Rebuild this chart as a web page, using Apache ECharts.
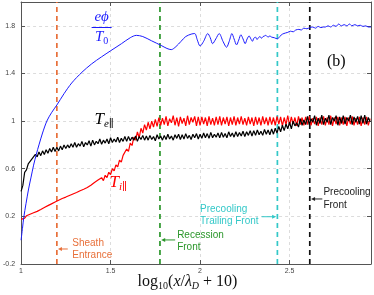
<!DOCTYPE html>
<html><head><meta charset="utf-8">
<script src="https://cdn.jsdelivr.net/npm/echarts/dist/echarts.min.js"></script>
<style>html,body{margin:0;padding:0;background:#fff}#c{width:374px;height:295px}</style>
</head><body><div id="c"></div>
<script>
const xGrid = [
1.00,1.01,1.02,1.03,1.04,1.05,1.06,1.07,1.08,1.09,
1.10,1.11,1.12,1.13,1.14,1.15,1.16,1.17,1.18,1.19,
1.20,1.21,1.22,1.23,1.24,1.25,1.26,1.27,1.28,1.29,
1.30,1.31,1.32,1.33,1.34,1.35,1.36,1.37,1.38,1.39,
1.40,1.41,1.42,1.43,1.44,1.45,1.46,1.47,1.48,1.49,
1.50,1.51,1.52,1.53,1.54,1.55,1.56,1.57,1.58,1.59,
1.60,1.61,1.62,1.63,1.64,1.65,1.66,1.67,1.68,1.69,
1.70,1.71,1.72,1.73,1.74,1.75,1.76,1.77,1.78,1.79,
1.80,1.81,1.82,1.83,1.84,1.85,1.86,1.87,1.88,1.89,
1.90,1.91,1.92,1.93,1.94,1.95,1.96,1.97,1.98,1.99,
2.00,2.01,2.02,2.03,2.04,2.05,2.06,2.07,2.08,2.09,
2.10,2.11,2.12,2.13,2.14,2.15,2.16,2.17,2.18,2.19,
2.20,2.21,2.22,2.23,2.24,2.25,2.26,2.27,2.28,2.29,
2.30,2.31,2.32,2.33,2.34,2.35,2.36,2.37,2.38,2.39,
2.40,2.41,2.42,2.43,2.44,2.45,2.46,2.47,2.48,2.49,
2.50,2.51,2.52,2.53,2.54,2.55,2.56,2.57,2.58,2.59,
2.60,2.61,2.62,2.63,2.64,2.65,2.66,2.67,2.68,2.69,
2.70,2.71,2.72,2.73,2.74,2.75,2.76,2.77,2.78,2.79,
2.80,2.81,2.82,2.83,2.84,2.85,2.86,2.87,2.88,2.89,
2.90,2.91,2.92,2.93,2.94,2.95];

const teVals = [
0.41,0.46,0.57,0.59,0.64,0.63,0.68,0.67,0.72,0.70,
0.74,0.71,0.75,0.72,0.76,0.73,0.77,0.74,0.78,0.745,
0.78,0.75,0.79,0.76,0.80,0.77,0.80,0.775,0.81,0.78,
0.82,0.78,0.81,0.79,0.83,0.785,0.82,0.80,0.835,0.79,
0.84,0.80,0.83,0.81,0.85,0.805,0.84,0.815,0.85,0.81,
0.86,0.82,0.85,0.825,0.865,0.82,0.855,0.83,0.87,0.83,
0.87,0.835,0.865,0.84,0.875,0.83,0.87,0.845,0.88,0.84,
0.875,0.84,0.88,0.845,0.87,0.835,0.885,0.85,0.875,0.84,
0.88,0.845,0.89,0.85,0.875,0.84,0.885,0.855,0.89,0.845,
0.885,0.85,0.895,0.855,0.88,0.845,0.89,0.86,0.895,0.85,
0.89,0.855,0.9,0.86,0.895,0.855,0.905,0.86,0.89,0.865,
0.9,0.86,0.905,0.865,0.895,0.86,0.91,0.87,0.9,0.865,
0.91,0.87,0.905,0.875,0.915,0.87,0.91,0.88,0.92,0.875,
0.92,0.88,0.925,0.885,0.915,0.88,0.93,0.89,0.925,0.885,
0.935,0.89,0.94,0.9,0.955,0.91,0.965,0.92,0.975,0.935,
0.99,0.935,1.0,0.96,0.985,0.95,1.02,0.965,1.01,0.97,
1.04,0.97,1.02,0.99,1.045,0.965,1.025,0.98,1.05,0.97,
1.025,0.99,1.05,0.97,1.03,1.0,1.045,0.965,1.035,0.98,
1.045,0.975,1.03,1.0,1.05,0.97,1.035,0.99,1.04,0.975,
1.045,0.98,1.05,0.975,1.03,0.995];

const tiVals = [
0.175,0.19,0.185,0.205,0.2,0.218,0.21,0.23,0.222,0.242,
0.235,0.258,0.252,0.275,0.268,0.29,0.282,0.305,0.296,0.32,
0.31,0.335,0.325,0.35,0.338,0.362,0.352,0.375,0.362,0.388,
0.372,0.4,0.385,0.415,0.4,0.428,0.412,0.442,0.428,0.462,
0.448,0.485,0.472,0.505,0.49,0.525,0.5,0.545,0.525,0.57,
0.55,0.6,0.582,0.632,0.615,0.672,0.655,0.712,0.7,0.765,
0.745,0.815,0.795,0.865,0.84,0.91,0.86,0.94,0.9,0.97,
0.925,0.99,0.935,1.0,0.95,1.015,0.955,1.03,0.965,1.025,
0.97,1.04,0.96,1.02,0.985,1.045,0.965,1.03,0.955,1.035,
0.98,1.025,0.96,1.045,0.97,1.03,0.99,1.04,0.96,1.035,
0.965,1.035,0.975,1.03,0.96,1.04,0.97,1.025,0.965,1.035,
0.97,1.04,0.965,1.03,0.975,1.035,0.96,1.03,0.97,1.04,
0.965,1.03,0.975,1.04,0.97,1.025,0.965,1.035,0.975,1.03,
0.96,1.035,0.97,1.03,0.965,1.04,0.975,1.03,0.965,1.035,
0.97,1.03,0.965,1.04,0.975,1.035,0.96,1.03,0.97,1.045,
0.965,1.035,0.975,1.03,0.96,1.04,0.97,1.03,0.965,1.035,
0.97,1.04,0.965,1.025,0.975,1.035,0.96,1.03,0.97,1.04,
0.965,1.03,0.97,1.045,0.96,1.03,0.975,1.035,0.965,1.03,
0.97,1.035,0.96,1.03,0.975,1.04,0.965,1.025,0.97,1.035,
0.96,1.03,0.97,1.035,0.965,1.02];

const phiX = [1.0,1.008,1.015,1.028,1.042,1.056,1.07,1.085,1.1,1.12,1.144,1.17,1.2,1.24,1.283,1.34,1.394,1.45,1.5,1.561,1.61,1.644,1.68,1.728,1.783,1.815,1.839,1.865,1.894,1.92,1.95,1.97,1.985,2.0,2.02,2.043,2.057,2.07,2.088,2.107,2.128,2.148,2.163,2.178,2.19,2.204,2.216,2.228,2.24,2.252,2.263,2.274,2.284,2.293,2.30,2.31,2.318,2.326,2.335,2.343,2.352,2.36,2.367,2.38,2.39,2.40,2.415,2.432,2.445,2.46,2.478,2.49,2.505,2.52,2.535,2.552,2.565,2.58,2.597,2.613,2.63,2.645,2.66,2.675,2.69,2.70,2.715,2.73,2.745,2.76,2.774,2.79,2.805,2.82,2.835,2.848,2.865,2.88,2.895,2.91,2.925,2.94,2.955];
const phiVals = [0.0,0.1,0.19,0.31,0.43,0.53,0.63,0.72,0.80,0.9,1.0,1.07,1.135,1.23,1.32,1.41,1.48,1.54,1.59,1.65,1.70,1.72,1.71,1.675,1.635,1.61,1.60,1.625,1.67,1.71,1.73,1.735,1.68,1.63,1.67,1.735,1.70,1.65,1.69,1.735,1.67,1.62,1.67,1.735,1.69,1.64,1.68,1.725,1.69,1.65,1.69,1.715,1.69,1.67,1.695,1.705,1.685,1.70,1.71,1.695,1.71,1.715,1.72,1.705,1.715,1.705,1.70,1.69,1.71,1.73,1.74,1.745,1.755,1.75,1.765,1.77,1.765,1.78,1.775,1.785,1.79,1.78,1.795,1.785,1.79,1.79,1.8,1.79,1.805,1.795,1.815,1.80,1.81,1.8,1.815,1.80,1.81,1.80,1.805,1.795,1.8,1.79,1.79];

const frontX = [1.2, 1.776, 2.432, 2.613];
const frontColors = ['#e8703a', '#2a962a', '#33c8c8', '#111111'];
const frontLabels = [['Sheath','Entrance'],['Recession','Front'],['Precooling','Trailing Front'],['Precooling','Front']];
const xTickLabels = ['1','1.5','2','2.5'];
const yTickLabels = ['-0.2','0.2','0.6','1','1.4','1.8'];

// annotation layout (data coords): text left x, line1 y, line2 y, arrow from x, arrow to x, arrow y
const annotLayout = [
  {tx:1.286, ty1:-0.024, ty2:-0.124, ax0:1.261, ax1:1.206, ay:-0.074},
  {tx:1.872, ty1:0.04, ty2:-0.061, ax0:1.861, ax1:1.783, ay:0.002},
  {tx:2.0, ty1:0.26, ty2:0.155, ax0:2.344, ax1:2.425, ay:0.197},
  {tx:2.689, ty1:0.40, ty2:0.296, ax0:2.683, ax1:2.62, ay:0.346}
];

function pairs(xa, ya){ return xa.map((x,i)=>[x, ya[i]]); }
const fmt = (list) => (v) => { const s = String(Math.round(v*100)/100); return list.indexOf(s) >= 0 ? s : ''; };

const chart = echarts.init(document.getElementById('c'), null, {renderer:'canvas'});
const axisCol = '#555';
const series = [];
frontX.forEach((fx, i) => {
  series.push({type:'line', data:[[fx,-0.2],[fx,2.0]], symbol:'none', silent:true, z:1,
    lineStyle:{color:frontColors[i], width:1.7, type:[5,4]}});
});
series.push({type:'line', data:pairs(xGrid, tiVals), symbol:'none', lineStyle:{color:'#ff0000', width:1.2}, z:2});
series.push({type:'line', data:pairs(xGrid, teVals), symbol:'none', lineStyle:{color:'#000000', width:1.2}, z:3});
series.push({type:'line', data:pairs(phiX, phiVals), symbol:'none', smooth:0.3, lineStyle:{color:'#1a1aff', width:1}, z:4});

const baseX = {type:'value', min:1, max:2.955, interval:0.5};
const baseY = {type:'value', min:-0.2, max:2.0, interval:0.4};
chart.setOption({
  animation:false,
  grid:{left:19, right:3, top:2, bottom:31},
  xAxis:[
    Object.assign({}, baseX, {position:'bottom',
      axisLine:{show:true, onZero:false, lineStyle:{color:axisCol}},
      axisTick:{show:true, inside:true, length:4, lineStyle:{color:axisCol}},
      axisLabel:{fontSize:7, color:'#444', margin:4, fontFamily:'Liberation Sans', formatter:fmt(xTickLabels), showMaxLabel:false},
      splitLine:{show:true, lineStyle:{color:'#dcdcdc', type:[3,3]}}}),
    Object.assign({}, baseX, {position:'top',
      axisLine:{show:true, onZero:false, lineStyle:{color:axisCol}},
      axisTick:{show:true, inside:true, length:4, lineStyle:{color:axisCol}},
      axisLabel:{show:false}, splitLine:{show:false}})
  ],
  yAxis:[
    Object.assign({}, baseY, {position:'left',
      axisLine:{show:true, onZero:false, lineStyle:{color:axisCol}},
      axisTick:{show:true, inside:true, length:4, lineStyle:{color:axisCol}},
      axisLabel:{fontSize:7, color:'#444', margin:6, fontFamily:'Liberation Sans', formatter:fmt(yTickLabels), showMaxLabel:false},
      splitLine:{show:true, lineStyle:{color:'#dcdcdc', type:[3,3]}}}),
    Object.assign({}, baseY, {position:'right',
      axisLine:{show:true, onZero:false, lineStyle:{color:axisCol}},
      axisTick:{show:true, inside:true, length:4, lineStyle:{color:axisCol}},
      axisLabel:{show:false}, splitLine:{show:false}})
  ],
  series: series
});

const P = (x,y) => chart.convertToPixel({xAxisIndex:0, yAxisIndex:0}, [x,y]);
const g = [];
const sans = 'Liberation Sans';
const serif = 'Liberation Serif';
annotLayout.forEach((a, i) => {
  const c = frontColors[i] === '#111111' ? '#222' : frontColors[i];
  const p1 = P(a.tx, a.ty1), p2 = P(a.tx, a.ty2);
  g.push({type:'text', x:p1[0], y:p1[1], style:{text:frontLabels[i][0], fill:c, font:'10px ' + sans, textVerticalAlign:'middle', textAlign:'left'}});
  g.push({type:'text', x:p2[0], y:p2[1], style:{text:frontLabels[i][1], fill:c, font:'10px ' + sans, textVerticalAlign:'middle', textAlign:'left'}});
  const s = P(a.ax0, a.ay), e = P(a.ax1, a.ay);
  const dir = e[0] > s[0] ? 1 : -1;
  g.push({type:'line', shape:{x1:s[0], y1:s[1], x2:e[0]-dir*2, y2:e[1]}, style:{stroke:c, lineWidth:1}});
  g.push({type:'polygon', shape:{points:[[e[0], e[1]], [e[0]-dir*4, e[1]-2], [e[0]-dir*4, e[1]+2]]}, style:{fill:c}});
});

function mathRich(col, big, small) {
  return {
    m:{fontSize:big, fontStyle:'italic', fontFamily:serif, fill:col, color:col, lineHeight:big+3},
    s:{fontSize:small, fontStyle:'italic', fontFamily:serif, fill:col, color:col, lineHeight:big+3, verticalAlign:'bottom', padding:[Math.round(big*0.45),0,0,0]},
    u:{fontSize:small, fontFamily:serif, fill:col, color:col, lineHeight:big+3, verticalAlign:'bottom', padding:[Math.round(big*0.45),0,0,0]},
    p:{fontSize:small, fontFamily:'DejaVu Serif', fill:col, color:col, lineHeight:big+3, verticalAlign:'bottom', padding:[Math.round(big*0.45),0,0,0]}
  };
}

// phi label
const ph = P(1.45, 1.79);
g.push({type:'text', x:ph[0], y:ph[1]-2, style:{text:'eϕ', fill:'#1a1aff', font:'italic 15px ' + serif, textAlign:'center', textVerticalAlign:'bottom'}});
g.push({type:'line', shape:{x1:ph[0]-10, y1:ph[1]+0.5, x2:ph[0]+10, y2:ph[1]+0.5}, style:{stroke:'#1a1aff', lineWidth:1}});
g.push({type:'text', x:ph[0], y:ph[1]+1, style:{
  text:'{m|T}{u|0}', fill:'#1a1aff', textAlign:'center', textVerticalAlign:'top', rich:mathRich('#1a1aff', 15, 10)}});

// Te label
const te = P(1.41, 1.01);
g.push({type:'text', x:te[0], y:te[1], style:{
  text:'{m|T}{s|e}{p|∥}', fill:'#000', textAlign:'left', textVerticalAlign:'middle', rich:mathRich('#000', 17, 11)}});
// Ti label
const ti = P(1.494, 0.48);
g.push({type:'text', x:ti[0], y:ti[1], style:{
  text:'{m|T}{s|i}{p|∥}', fill:'#ff0000', textAlign:'left', textVerticalAlign:'middle', rich:mathRich('#ff0000', 17, 11)}});
// (b)
const bp = P(2.761, 1.497);
g.push({type:'text', x:bp[0], y:bp[1], style:{text:'(b)', fill:'#000', font:'16px ' + serif, textAlign:'center', textVerticalAlign:'middle'}});

// x axis title
const xa = P(1.93, -0.2);
g.push({type:'text', x:xa[0], y:282, style:{
  text:'{r|log}{u|10}{r|(}{m|x}{r|/}{m|λ}{s|D}{r| + 10)}', fill:'#111', textAlign:'center', textVerticalAlign:'middle',
  rich:Object.assign(mathRich('#111', 16, 10), {r:{fontSize:16, fontFamily:serif, fill:'#111', color:'#111', lineHeight:19}})}});

chart.setOption({graphic:{elements:g}});
</script></body></html>
